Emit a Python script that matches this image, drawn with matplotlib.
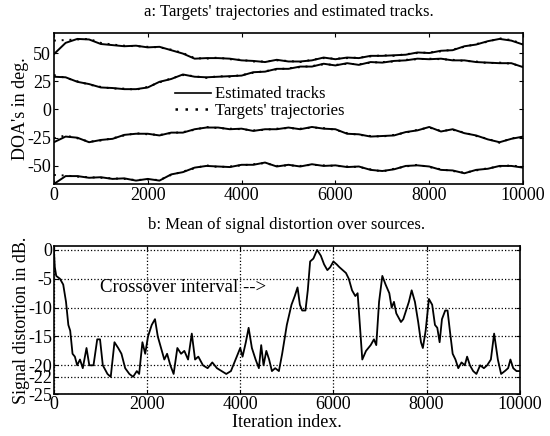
import numpy as np
import matplotlib
matplotlib.use('Agg')
import matplotlib.pyplot as plt

plt.rcParams['font.family'] = ['Liberation Serif', 'DejaVu Serif']
plt.rcParams['axes.unicode_minus'] = False

# ---- panel a: DOA tracks (sampled every 250 iterations) ----
iters_a = np.arange(0, 10001, 250)

traj_a = [61, 61.5, 62, 62.5, 59, 57.5, 56.5, 56, 55.5, 55, 53, 50, 45.5, 45, 46, 44.5,
          44, 42.5, 42.5, 43.5, 43, 42, 44, 45.5, 45, 45.5, 46, 47, 48, 47.5, 49, 50,
          50.5, 51.5, 53, 55.5, 58, 60, 63, 61.5, 58]
traj_b = [30.5, 28, 25, 22, 20, 18.5, 18.5, 17.5, 20, 24, 27.5, 30.5, 29.5, 28, 29.5, 29,
          30.5, 32.5, 34, 35.5, 36.5, 37.5, 38.5, 40, 39.5, 40.5, 40, 41.5, 42, 42.5, 44,
          44.5, 45, 44.5, 44, 43, 42.5, 41, 41.5, 40.5, 38]
traj_c = [-25.5, -23, -25.5, -28.5, -27.5, -25.5, -23, -21, -22, -22.5, -21, -20, -18,
          -15.5, -16.5, -17, -17.5, -18.5, -18, -17, -16.5, -17, -16, -16.5, -18, -21,
          -22.5, -23.5, -24, -22.5, -20.5, -18, -16, -19, -18, -20.5, -23.5, -26, -29.5,
          -25.5, -24.5]
traj_d = [-58, -58.5, -59.5, -60, -60.5, -61, -61.5, -62.5, -62, -62.5, -58, -55, -52,
          -49.5, -51, -50.5, -49.5, -48.5, -47.5, -50, -49.5, -50, -49, -49.5, -50, -50.5,
          -51, -53, -55, -52.5, -50.5, -49, -51, -53, -54.5, -56, -54, -52, -50.5, -49.5,
          -51]

est_a = [49, 59, 62.5, 62, 58, 57, 56, 56.5, 55, 55.5, 52.5, 49.5, 45, 45.5, 45.5, 45,
         43.5, 43, 42, 44, 42.5, 42.5, 43.5, 46, 44.5, 46, 45.5, 47.5, 47.5, 48, 48.5, 50.5,
         50, 52, 52.5, 56, 57.5, 60.5, 62.5, 61, 57.5]
est_b = [29, 28.5, 24.5, 22.5, 19.5, 19, 18, 18, 19.5, 24.5, 27, 31, 29, 28.5, 29, 29.5,
         30, 33, 33.5, 36, 36, 38, 38, 40.5, 39, 41, 39.5, 42, 41.5, 43, 43.5, 45, 44.5,
         45, 43.5, 43.5, 42, 41.5, 41, 41, 37.5]
est_c = [-29, -24, -25, -29, -27, -26, -22.5, -21.5, -21.5, -23, -20.5, -20.5, -17.5,
         -16, -16, -17.5, -17, -19, -17.5, -17.5, -16, -17.5, -15.5, -17, -17.5, -21.5,
         -22, -24, -23.5, -23, -20, -18.5, -15.5, -19.5, -17.5, -21, -23, -26.5, -29,
         -26, -24]
est_d = [-66, -59, -59, -60.5, -60, -61.5, -61, -63, -61.5, -63, -57.5, -55.5, -51.5,
         -50, -50.5, -51, -49, -49, -47, -50.5, -49, -50.5, -48.5, -50, -49.5, -51, -50.5,
         -53.5, -54.5, -53, -50, -49.5, -50.5, -53.5, -54, -56.5, -53.5, -52.5, -50, -50,
         -51.5]

# ---- panel b: mean signal distortion ----
iters_b = [0, 20, 50, 130, 200, 260, 310, 350, 400, 450, 500, 560, 620, 700, 760, 850,
           930, 990, 1050, 1150, 1220, 1300, 1380, 1450, 1530, 1620, 1700, 1780, 1830,
           1900, 1960, 2020, 2100, 2170, 2230, 2300, 2370, 2430, 2500, 2570, 2650, 2730,
           2800, 2880, 2960, 3030, 3100, 3200, 3300, 3400, 3500, 3600, 3700, 3800, 3900,
           4000, 4050, 4120, 4180, 4250, 4330, 4400, 4450, 4500, 4560, 4620, 4680, 4750,
           4830, 4900, 5000, 5100, 5170, 5230, 5280, 5330, 5400, 5450, 5500, 5570, 5650,
           5730, 5800, 5870, 5930, 6000, 6070, 6130, 6200, 6270, 6330, 6400, 6470, 6520,
           6560, 6620, 6700, 6800, 6870, 6920, 6980, 7050, 7120, 7200, 7250, 7300, 7350,
           7450, 7500, 7560, 7620, 7680, 7750, 7820, 7880, 7920, 7980, 8050, 8120, 8180,
           8230, 8280, 8330, 8400, 8450, 8500, 8560, 8620, 8680, 8750, 8820, 8870, 8930,
           9000, 9070, 9150, 9230, 9300, 9380, 9450, 9530, 9600, 9680, 9750, 9800, 9860,
           9930, 10000]
distortion = [0, -3, -4.5, -5, -6, -9, -13, -14, -18, -18.5, -20, -19, -20.5, -17, -20,
              -20, -15.5, -15.5, -20, -21.5, -22, -16, -17, -18, -20.5, -21.5, -22, -21,
              -21.5, -16, -18, -15, -13, -12, -15, -17, -19, -18, -20, -21.5, -17, -18,
              -17.5, -19, -14.5, -19, -18.5, -20, -20.5, -19.5, -20.5, -21, -21.5, -21,
              -19, -17, -18.5, -16, -13.5, -17, -19, -20.5, -16.5, -20, -17.5, -19, -21,
              -20.5, -21, -18, -13, -9.5, -8, -6.5, -9.5, -10.5, -10.5, -7, -2, -1.5, 0,
              -1, -2.5, -3.5, -3, -2, -2.5, -3, -3.5, -4, -5, -7, -8, -7.5, -12, -19,
              -17.5, -16.5, -15.5, -16.5, -9, -4.5, -6, -7.5, -10, -9, -11, -12.5, -12,
              -10.5, -9, -7, -9, -12.5, -16, -17, -14, -8.5, -9.5, -13, -13.5, -16, -12,
              -10.5, -10.5, -14, -18, -19, -20.5, -19.5, -20, -18.5, -20, -21, -21.5, -20,
              -20.5, -20, -19, -14.5, -19, -21.5, -21, -20.5, -19, -20.5, -21, -21]

fig = plt.figure(figsize=(5.5, 4.36), dpi=100)
fs = 13

# ---------- panel a ----------
ax1 = fig.add_axes([0.098, 0.578, 0.853, 0.347])
dot_style = (0, (1, 3))
for est, tr in [(est_a, traj_a), (est_b, traj_b), (est_c, traj_c), (est_d, traj_d)]:
    ax1.plot(iters_a, est, color='k', lw=1.4)
    ax1.plot(iters_a, tr, color='k', lw=1.4, linestyle=dot_style)
ax1.set_xlim(0, 10000)
ax1.set_ylim(-66, 68)
ax1.set_xticks([0, 2000, 4000, 6000, 8000, 10000])
ax1.set_yticks([-50, -25, 0, 25, 50])
ax1.tick_params(direction='in', top=True, right=True, labelsize=fs, length=3, pad=2)
ax1.set_ylabel("DOA's in deg.", fontsize=fs, labelpad=-1)
ax1.set_title("a: Targets' trajectories and estimated tracks.", fontsize=12, pad=12)
for s in ax1.spines.values():
    s.set_linewidth(1.2)

h1, = ax1.plot([], [], color='k', lw=1.2)
h2, = ax1.plot([], [], color='k', lw=1.8, linestyle=dot_style)
ax1.legend([h1, h2], ['Estimated tracks', "Targets' trajectories"], loc='upper left',
           bbox_to_anchor=(0.24, 0.70), frameon=False, fontsize=12, handlelength=2.2,
           handletextpad=0.2, labelspacing=0.05, borderpad=0)

# ---------- panel b ----------
ax2 = fig.add_axes([0.098, 0.096, 0.847, 0.34])
ax2.plot(iters_b, distortion, color='k', lw=1.3)
ax2.set_xlim(0, 10000)
ax2.set_ylim(-25, 0.7)
ax2.set_xticks([0, 2000, 4000, 6000, 8000, 10000])
ax2.set_yticks([0, -5, -10, -15, -20, -22, -25])
ax2.grid(True, linestyle=':', color='k', lw=0.9)
ax2.tick_params(direction='in', top=True, right=True, labelsize=fs, length=3, pad=1)
ax2.set_ylabel('Signal distortion in dB.', fontsize=fs, labelpad=-1)
ax2.set_xlabel('Iteration index.', fontsize=fs, labelpad=1)
ax2.set_title('b: Mean of signal distortion over sources.', fontsize=12, pad=12)
ax2.text(1000, -6.5, 'Crossover interval -->', fontsize=13.5, va='center', ha='left')
for s in ax2.spines.values():
    s.set_linewidth(1.2)

plt.savefig('out.png', dpi=100)
